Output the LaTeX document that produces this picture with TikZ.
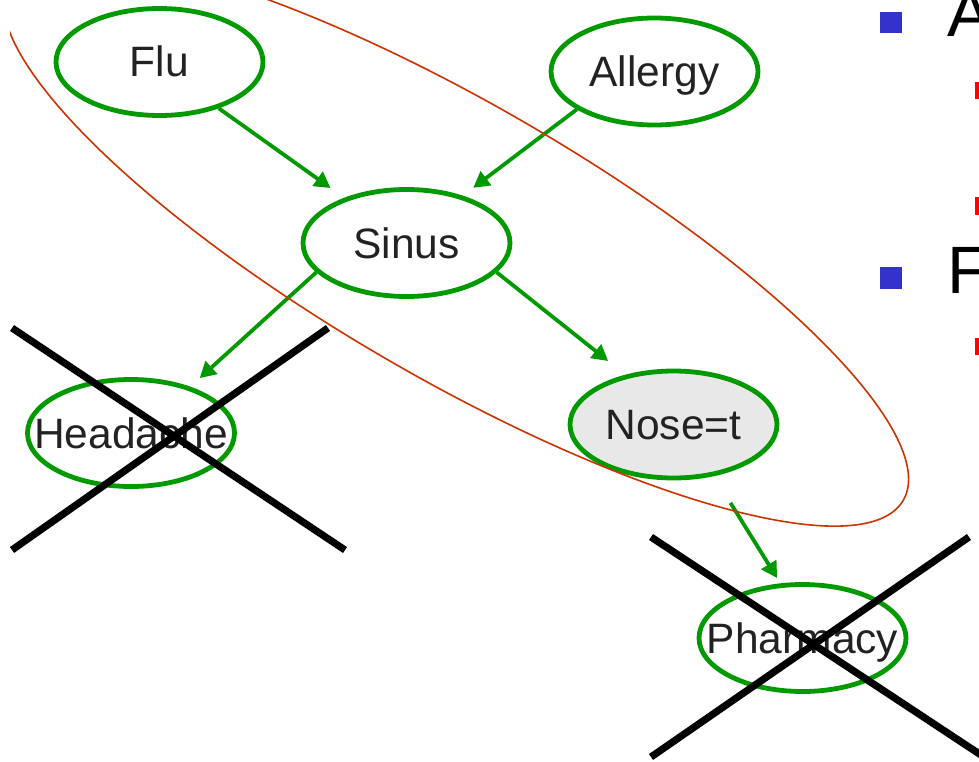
\documentclass[tikz,border=0pt]{standalone}
\usepackage{fontspec}
\setmainfont{Liberation Sans}
\usetikzlibrary{shapes.geometric,arrows.meta}
\definecolor{netgreen}{RGB}{0,153,0}
\definecolor{loopred}{RGB}{204,51,0}
\definecolor{bulletblue}{RGB}{51,51,204}
\definecolor{evidgray}{RGB}{232,232,232}
\definecolor{labelgray}{RGB}{34,34,34}
\begin{document}
\begin{tikzpicture}[x=1pt,y=-1pt,
  var/.style={ellipse, draw=netgreen, line width=4.8pt,
    minimum width=207pt, minimum height=107pt, inner sep=0pt,
    text=labelgray, font=\fontsize{42.5}{50}\selectfont,
    text height=30pt, text depth=0pt},
  observed/.style={var, fill=evidgray},
  link/.style={draw=netgreen, line width=3.8pt,
    -{Triangle[length=16pt,width=17pt]}},
  cross/.style={line width=7.2pt, black},
  bulletsq/.style={fill=bulletblue},
  subbullet/.style={fill=red},
  slidetext/.style={font=\fontsize{67}{80}\selectfont, inner sep=0pt,
    anchor=base west, text=black}]
\useasboundingbox (0,0) rectangle (979,762);
\clip (0,0) rectangle (979,762);

% network variables
\node[var] (flu)      at (159.5,62)  {\makebox[0pt]{Flu}};
\node[var] (allergy)  at (654.5,71.5){\makebox[0pt]{Allergy}};
\node[var] (sinus)    at (406.5,243) {\makebox[0pt]{Sinus}};
\node[var] (headache) at (131,433)   {\makebox[0pt]{Headache}};
\node[observed] (nose) at (673.5,424.5){\makebox[0pt]{Nose=t}};
\node[var] (pharmacy) at (802.5,638) {\makebox[0pt]{Pharmacy}};

% dependencies
\draw[link, shorten >=16.8pt] (flu.-38.2) -- (sinus.144.3);
\draw[link, shorten >=13pt] (allergy.206.4) -- (sinus.40.1);
\draw[link, shorten >=12.7pt] (sinus.198.5) -- (headache.38.5);
\draw[link, shorten >=22pt] (sinus.-18.1) -- (nose.134.6);
\draw[link, shorten <=31.4pt, shorten >=6.2pt] (nose.-52.5) -- (pharmacy.112.1);

% relevant region
\begin{scope}
  \clip (10,0) rectangle (979,762);
  \draw[loopred, line width=1.6pt, rotate around={-30.1:(456,241)}]
    (456,241) ellipse [x radius=517pt, y radius=137pt];
\end{scope}

% pruned variables
\draw[cross] (12,328) -- (345,550);
\draw[cross] (328,328) -- (12,550);
\draw[cross] (651,537) -- (984,757);
\draw[cross] (969,537) -- (651,757);

% slide bullets
\fill[bulletsq] (880,12) rectangle (902,33);
\fill[bulletsq] (880,267) rectangle (902,289);
\fill[subbullet] (975,82) rectangle (992,99);
\fill[subbullet] (975,197) rectangle (992,215);
\fill[subbullet] (975,338) rectangle (992,355);
\node[slidetext] (ta) at (947.5,37) {A};
\node[slidetext] (tf) at (947.5,293) {F};
\end{tikzpicture}
\end{document}
